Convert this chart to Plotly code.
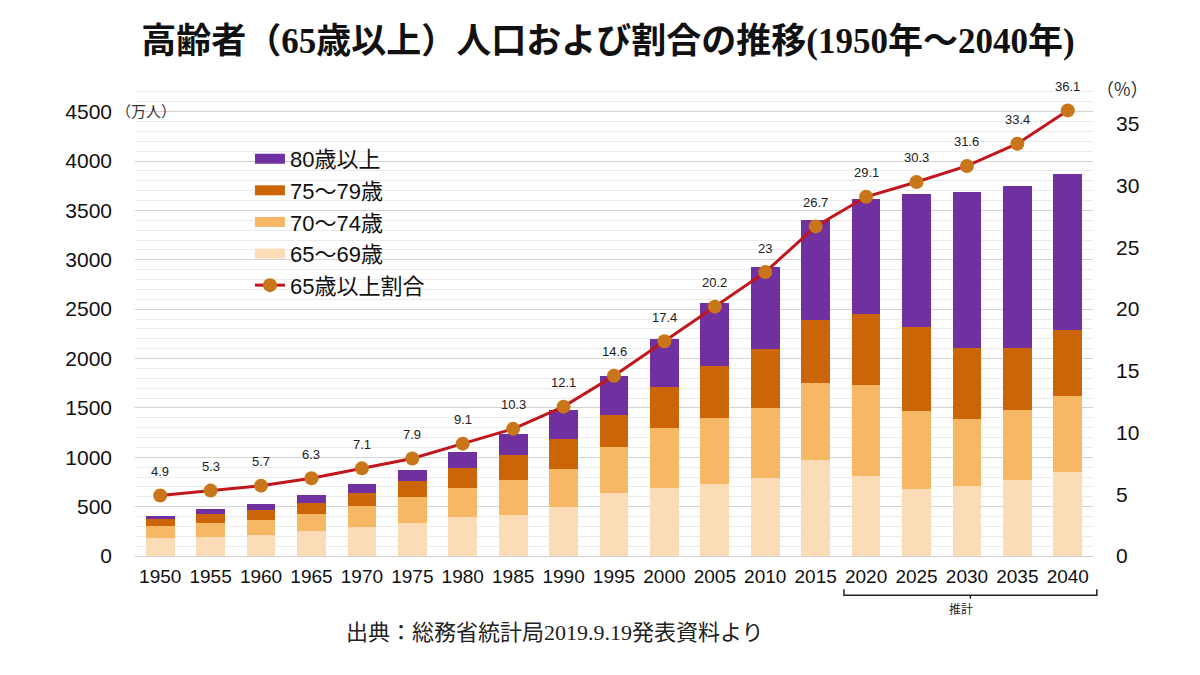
import plotly.graph_objects as go

years = ["1950", "1955", "1960", "1965", "1970", "1975", "1980", "1985", "1990", "1995",
         "2000", "2005", "2010", "2015", "2020", "2025", "2030", "2035", "2040"]
age_65_69 = [180, 196, 213, 254, 297, 335, 392, 413, 497, 636, 693, 727, 794, 974, 811, 683, 710, 768, 849]
age_70_74 = [124, 136, 155, 175, 210, 260, 298, 358, 385, 469, 602, 673, 704, 781, 923, 788, 679, 710, 774]
age_75_79 = [68, 91, 95, 112, 129, 166, 206, 250, 301, 325, 412, 524, 598, 639, 717, 852, 718, 624, 669]
age_80_over = [34, 51, 67, 78, 94, 114, 159, 216, 298, 388, 491, 635, 835, 1004, 1167, 1338, 1578, 1640, 1579]
ratio = [4.9, 5.3, 5.7, 6.3, 7.1, 7.9, 9.1, 10.3, 12.1, 14.6, 17.4, 20.2, 23, 26.7, 29.1, 30.3, 31.6, 33.4, 36.1]
ratio_labels = ["4.9", "5.3", "5.7", "6.3", "7.1", "7.9", "9.1", "10.3", "12.1", "14.6", "17.4", "20.2",
                "23", "26.7", "29.1", "30.3", "31.6", "33.4", "36.1"]
left_ticks = [0, 500, 1000, 1500, 2000, 2500, 3000, 3500, 4000, 4500]
right_ticks = [0, 5, 10, 15, 20, 25, 30, 35]

SANS = "Liberation Sans, Arial, Noto Sans CJK JP"
JP = "Noto Sans CJK JP"

fig = go.Figure()
series = [
    ("65～69歳", age_65_69, "#fcdcb6", 4),
    ("70～74歳", age_70_74, "#f7b866", 3),
    ("75～79歳", age_75_79, "#cc6508", 2),
    ("80歳以上", age_80_over, "#7030a0", 1),
]
for name, vals, col, rank in series:
    fig.add_trace(go.Bar(x=years, y=vals, name=name, marker=dict(color=col, line=dict(width=0)),
                         showlegend=False))
    # legend swatch (wide rectangle like the reference)
    fig.add_trace(go.Scatter(x=[None], y=[None], mode="lines", name=name,
                             line=dict(color=col, width=12), legendrank=rank, legendgroup=name,
                             hoverinfo="skip"))

fig.add_trace(go.Scatter(x=years, y=ratio, yaxis="y2", name="65歳以上割合", mode="lines+markers",
                         line=dict(color="#c0161c", width=3),
                         marker=dict(size=14, color="#c9761a"),
                         legendrank=5, legendgroup="ratio"))

for i, (v, lab) in enumerate(zip(ratio, ratio_labels)):
    fig.add_annotation(x=i, y=v, xref="x", yref="y2", text=lab, showarrow=False, yshift=24,
                       font=dict(family=SANS, size=13, color="#222222"))

fig.update_layout(
    width=1200, height=675,
    paper_bgcolor="white", plot_bgcolor="white",
    margin=dict(l=127, r=115, t=74, b=127),
    barmode="stack", bargap=0.43,
    showlegend=True,
    legend=dict(x=0.12, y=0.882, xanchor="left", yanchor="top", bgcolor="rgba(0,0,0,0)",
                font=dict(family=SANS, size=22, color="#111111"), tracegroupgap=0,
                itemwidth=30),
    title=dict(text="高齢者（65歳以上）人口および割合の推移(1950年～2040年)",
               x=0.5, xanchor="center", y=0.952, yanchor="middle",
               font=dict(family="Liberation Serif, Noto Sans CJK JP", size=35, color="#111111",
                         weight="bold")),
    xaxis=dict(type="category", categoryorder="array", categoryarray=years, range=[-0.5, 18.5],
               tickfont=dict(family=SANS, size=19, color="#111111"),
               showgrid=False, ticks="", ticklabelstandoff=7, showline=False),
    yaxis=dict(range=[0, 4800], tickvals=left_ticks, showgrid=True, gridcolor="#d3d3d3", gridwidth=1,
               minor=dict(dtick=100, showgrid=True, gridcolor="#ebebeb", gridwidth=1),
               zeroline=True, zerolinecolor="#d0d0d0", zerolinewidth=1,
               tickfont=dict(family=SANS, size=21, color="#111111"), ticks="", ticklabelstandoff=22),
    yaxis2=dict(range=[0, 38.4], tickvals=right_ticks, overlaying="y", side="right", showgrid=False,
                zeroline=False, tickfont=dict(family=SANS, size=21, color="#111111"), ticks="",
                ticklabelstandoff=22),
)

fig.add_annotation(xref="paper", yref="paper", x=-0.022, y=0.939, xanchor="left", yanchor="middle",
                   text="（万人）", showarrow=False, font=dict(family=JP, size=15, color="#333333"))
fig.add_annotation(xref="paper", yref="paper", x=1.031, y=0.987, xanchor="center", yanchor="middle",
                   text="（%）", showarrow=False, font=dict(family=JP, size=18, color="#333333"))

# bracket for projection years (paper coordinates)
bx0, bx1 = 0.740, 1.004
fig.add_shape(type="path", xref="paper", yref="paper",
              path=f"M {bx0},-0.070 L {bx0},-0.083 L {bx1},-0.083 L {bx1},-0.070",
              line=dict(color="#222222", width=1.5))
bxm = (bx0 + bx1) / 2
fig.add_shape(type="line", xref="paper", yref="paper", x0=bxm, x1=bxm, y0=-0.083, y1=-0.090,
              line=dict(color="#222222", width=1.5))
fig.add_annotation(xref="paper", yref="paper", x=bxm + 0.005, y=-0.088, yanchor="top", text="推計",
                   showarrow=False, font=dict(family=JP, size=12, color="#222222"))

fig.add_annotation(xref="paper", yref="paper", x=0.438, y=-0.162, xanchor="center", yanchor="middle",
                   text="出典：総務省統計局2019.9.19発表資料より", showarrow=False,
                   font=dict(family="Liberation Serif, Noto Sans CJK JP", size=22, color="#222222"))

fig.write_html("out.html")
